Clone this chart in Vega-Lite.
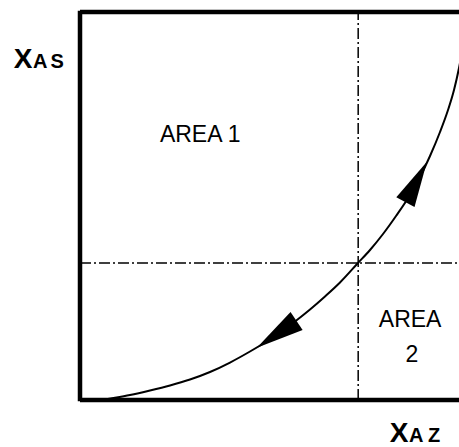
{
  "$schema": "https://vega.github.io/schema/vega-lite/v6.json",
  "width": 379,
  "height": 388,
  "autosize": {"type": "none"},
  "padding": {"left": 80, "top": 12, "right": 0, "bottom": 47},
  "background": "white",
  "config": {"view": {"stroke": null}, "axis": {"disable": true}},
  "datasets": {
    "curve": [
      {"x": 5.80, "y": 0},
      {"x": 9.23, "y": 0.57},
      {"x": 13.19, "y": 1.29},
      {"x": 18.47, "y": 2.45},
      {"x": 23.75, "y": 3.74},
      {"x": 29.02, "y": 5.28},
      {"x": 34.30, "y": 7.22},
      {"x": 39.58, "y": 9.66},
      {"x": 44.85, "y": 12.50},
      {"x": 48.81, "y": 14.82},
      {"x": 52.77, "y": 17.40},
      {"x": 56.73, "y": 20.23},
      {"x": 60.69, "y": 23.32},
      {"x": 64.64, "y": 26.68},
      {"x": 68.60, "y": 30.28},
      {"x": 73.35, "y": 35.31},
      {"x": 76.52, "y": 38.66},
      {"x": 79.95, "y": 42.78},
      {"x": 83.38, "y": 47.42},
      {"x": 87.07, "y": 52.84},
      {"x": 89.71, "y": 57.47},
      {"x": 92.35, "y": 62.89},
      {"x": 94.99, "y": 69.07},
      {"x": 97.10, "y": 74.74},
      {"x": 98.68, "y": 79.90},
      {"x": 100.0, "y": 85.57},
      {"x": 101.32, "y": 92.78}
    ],
    "vlines": [{"x": 73.4, "y": 0, "y2": 100}],
    "hlines": [{"y": 35.3, "x": 0, "x2": 100}],
    "frameV": [{"x": 0, "y": -0.3, "y2": 100.3}],
    "frameH": [{"y": 100, "x": 0, "x2": 101}, {"y": 0, "x": 0, "x2": 101}],
    "areaLabels": [
      {"label": "AREA 1", "x": 31.7, "y": 66.5},
      {"label": "AREA", "x": 87.1, "y": 18.8},
      {"label": "2", "x": 87.6, "y": 9.8}
    ],
    "bigLetters": [
      {"label": "X", "x": -15.0, "y": 85.6},
      {"label": "X", "x": 84.2, "y": -10.8}
    ],
    "smallLetters": [
      {"label": "A", "x": -10.5, "y": 85.6},
      {"label": "S", "x": -6.0, "y": 85.6},
      {"label": "A", "x": 88.7, "y": -10.8},
      {"label": "Z", "x": 93.4, "y": -10.8}
    ],
    "arrowUp": [{"x": 88.7, "y": 56.2}],
    "arrowDown": [{"x": 51.9, "y": 16.9}]
  },
  "layer": [
    {
      "data": {"name": "vlines"},
      "mark": {"type": "rule", "color": "black", "strokeWidth": 1.5, "strokeDash": [11, 3, 2, 3]},
      "encoding": {
        "x": {"field": "x", "type": "quantitative", "scale": {"domain": [0, 100], "nice": false, "zero": false}},
        "y": {"field": "y", "type": "quantitative", "scale": {"domain": [0, 100], "nice": false, "zero": false}},
        "y2": {"field": "y2"}
      }
    },
    {
      "data": {"name": "hlines"},
      "mark": {"type": "rule", "color": "black", "strokeWidth": 1.5, "strokeDash": [11, 3, 2, 3]},
      "encoding": {
        "y": {"field": "y", "type": "quantitative"},
        "x": {"field": "x", "type": "quantitative"},
        "x2": {"field": "x2"}
      }
    },
    {
      "data": {"name": "curve"},
      "mark": {"type": "line", "color": "black", "strokeWidth": 2, "interpolate": "monotone", "clip": true},
      "encoding": {
        "x": {"field": "x", "type": "quantitative"},
        "y": {"field": "y", "type": "quantitative"}
      }
    },
    {
      "data": {"name": "arrowUp"},
      "mark": {"type": "point", "filled": true, "color": "black", "opacity": 1, "size": 2100, "angle": 28, "shape": "M0,-1L0.45,1L-0.45,1Z"},
      "encoding": {
        "x": {"field": "x", "type": "quantitative"},
        "y": {"field": "y", "type": "quantitative"}
      }
    },
    {
      "data": {"name": "arrowDown"},
      "mark": {"type": "point", "filled": true, "color": "black", "opacity": 1, "size": 2300, "angle": 236, "shape": "M0,-1L0.45,1L-0.45,1Z"},
      "encoding": {
        "x": {"field": "x", "type": "quantitative"},
        "y": {"field": "y", "type": "quantitative"}
      }
    },
    {
      "data": {"name": "frameV"},
      "mark": {"type": "rule", "color": "black", "strokeWidth": 4.5},
      "encoding": {
        "x": {"field": "x", "type": "quantitative"},
        "y": {"field": "y", "type": "quantitative"},
        "y2": {"field": "y2"}
      }
    },
    {
      "data": {"name": "frameH"},
      "mark": {"type": "rule", "color": "black", "strokeWidth": 4.5, "clip": false},
      "encoding": {
        "y": {"field": "y", "type": "quantitative"},
        "x": {"field": "x", "type": "quantitative"},
        "x2": {"field": "x2"}
      }
    },
    {
      "data": {"name": "areaLabels"},
      "mark": {"type": "text", "font": "Liberation Sans", "fontSize": 23, "align": "center", "baseline": "alphabetic", "color": "black"},
      "encoding": {
        "x": {"field": "x", "type": "quantitative"},
        "y": {"field": "y", "type": "quantitative"},
        "text": {"field": "label"}
      }
    },
    {
      "data": {"name": "bigLetters"},
      "mark": {"type": "text", "font": "Liberation Sans", "fontSize": 28, "fontWeight": "bold", "align": "center", "baseline": "alphabetic", "color": "black"},
      "encoding": {
        "x": {"field": "x", "type": "quantitative"},
        "y": {"field": "y", "type": "quantitative"},
        "text": {"field": "label"}
      }
    },
    {
      "data": {"name": "smallLetters"},
      "mark": {"type": "text", "font": "Liberation Sans", "fontSize": 20, "fontWeight": "bold", "align": "center", "baseline": "alphabetic", "color": "black"},
      "encoding": {
        "x": {"field": "x", "type": "quantitative"},
        "y": {"field": "y", "type": "quantitative"},
        "text": {"field": "label"}
      }
    }
  ]
}
